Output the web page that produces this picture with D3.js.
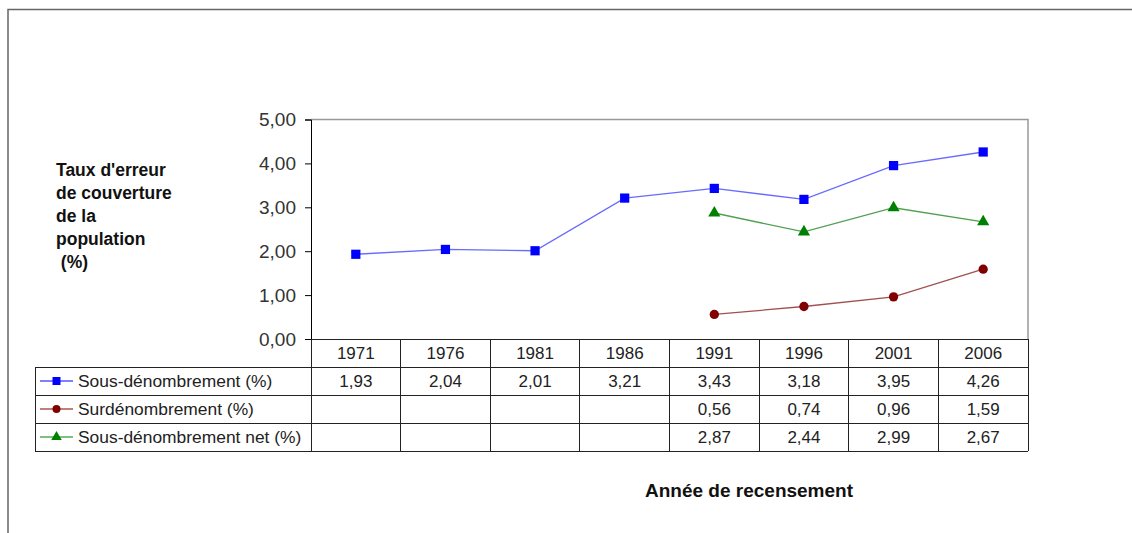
<!DOCTYPE html>
<html lang="fr">
<head>
<meta charset="UTF-8">
<title>Taux d'erreur de couverture</title>
<style>
  body { margin: 0; background: #fff; }
  svg { display: block; font-family: "Liberation Sans", Arial, sans-serif; }
  .grille { stroke: #222; stroke-width: 1; shape-rendering: crispEdges; }
  .cellule { font-size: 17px; fill: #222; text-anchor: middle; }
  .legende { font-size: 17.4px; fill: #222; }
  .titre { font-weight: bold; fill: #111; }
</style>
<script src="https://cdn.jsdelivr.net/npm/d3@7"></script>
</head>
<body>
<script>
// Données
var annees = ["1971", "1976", "1981", "1986", "1991", "1996", "2001", "2006"];
var sousDenombrement = [1.93, 2.04, 2.01, 3.21, 3.43, 3.18, 3.95, 4.26];
var surDenombrement = [null, null, null, null, 0.56, 0.74, 0.96, 1.59];
var sousDenombrementNet = [null, null, null, null, 2.87, 2.44, 2.99, 2.67];
var nomsSeries = ["Sous-dénombrement (%)", "Surdénombrement (%)", "Sous-dénombrement net (%)"];
var graduations = [0, 1, 2, 3, 4, 5];
var titreY = ["Taux d'erreur", "de couverture", "de la", "population", " (%)"];
var titreX = "Année de recensement";

var series = [
  { nom: nomsSeries[0], valeurs: sousDenombrement, couleur: "#0000ff", ligne: "#6a6aff", symbole: d3.symbolSquare, taille: 85 },
  { nom: nomsSeries[1], valeurs: surDenombrement, couleur: "#800000", ligne: "#a05050", symbole: d3.symbolCircle, taille: 68 },
  { nom: nomsSeries[2], valeurs: sousDenombrementNet, couleur: "#008000", ligne: "#50a050", symbole: d3.symbolTriangle, taille: 64 }
];

var largeur = 1132, hauteur = 533;
var zone = { gauche: 311, droite: 1028, haut: 119.5, bas: 339 };
var hautLigne = 28, gaucheTable = 35;

var virgule = d3.formatLocale({ decimal: ",", thousands: " ", grouping: [3], currency: ["", " €"] }).format(".2f");

var svg = d3.select("body").append("svg")
  .attr("width", largeur)
  .attr("height", hauteur);

// cadre extérieur
svg.append("path")
  .attr("d", "M8,533V9.5H1132")
  .attr("fill", "none")
  .attr("stroke", "#666")
  .attr("stroke-width", 1.5);

var x = d3.scaleBand().domain(annees).range([zone.gauche, zone.droite]);
var y = d3.scaleLinear().domain([0, 5]).range([zone.bas, zone.haut]);

// bordure grise de la zone de tracé
svg.append("path")
  .attr("d", "M" + zone.gauche + "," + zone.haut + "H" + zone.droite + "V" + zone.bas)
  .attr("fill", "none")
  .attr("stroke", "#999")
  .attr("stroke-width", 1.5);

// axe Y
var axeY = d3.axisLeft(y).tickValues(graduations).tickFormat(virgule).tickSize(6).tickPadding(9);
var gY = svg.append("g")
  .attr("transform", "translate(" + zone.gauche + ",0)")
  .call(axeY);
gY.select(".domain").attr("stroke", "#000");
gY.selectAll(".tick line").attr("stroke", "#000");
gY.selectAll(".tick text")
  .attr("font-size", 19)
  .attr("font-family", "Liberation Sans, Arial, sans-serif")
  .attr("fill", "#333");

// lignes et marqueurs
var ligne = d3.line()
  .defined(function(d) { return d.v !== null; })
  .x(function(d) { return x(d.a) + x.bandwidth() / 2; })
  .y(function(d) { return y(d.v); });

series.forEach(function(s) {
  var pts = annees.map(function(a, i) { return { a: a, v: s.valeurs[i] }; });
  svg.append("path")
    .datum(pts)
    .attr("fill", "none")
    .attr("stroke", s.ligne)
    .attr("stroke-width", 1.3)
    .attr("d", ligne);
  svg.append("g").selectAll("path")
    .data(pts.filter(function(d) { return d.v !== null; }))
    .join("path")
    .attr("d", d3.symbol().type(s.symbole).size(s.taille))
    .attr("fill", s.couleur)
    .attr("transform", function(d) { return "translate(" + (x(d.a) + x.bandwidth() / 2) + "," + y(d.v) + ")"; });
});

// tableau de données
var table = svg.append("g");
var basTable = zone.bas + hautLigne * 4;

// lignes horizontales
d3.range(4).forEach(function(i) {
  var yy = zone.bas + hautLigne * (i + 1);
  table.append("line").attr("class", "grille")
    .attr("x1", gaucheTable).attr("x2", zone.droite)
    .attr("y1", yy).attr("y2", yy);
});
table.append("line").attr("class", "grille")
  .attr("x1", zone.gauche).attr("x2", zone.droite)
  .attr("y1", zone.bas).attr("y2", zone.bas);
// lignes verticales
table.append("line").attr("class", "grille")
  .attr("x1", gaucheTable).attr("x2", gaucheTable)
  .attr("y1", zone.bas + hautLigne).attr("y2", basTable);
annees.forEach(function(a) {
  table.append("line").attr("class", "grille")
    .attr("x1", x(a)).attr("x2", x(a))
    .attr("y1", zone.bas).attr("y2", basTable);
});
table.append("line").attr("class", "grille")
  .attr("x1", zone.droite).attr("x2", zone.droite)
  .attr("y1", zone.bas).attr("y2", basTable);

// en-têtes des années
table.selectAll("text.annee")
  .data(annees)
  .join("text")
  .attr("class", "cellule annee")
  .attr("x", function(a) { return x(a) + x.bandwidth() / 2; })
  .attr("y", zone.bas + hautLigne / 2 + 6)
  .text(function(a) { return a; });

series.forEach(function(s, j) {
  var yc = zone.bas + hautLigne * (j + 1) + hautLigne / 2;
  // légende
  table.append("line")
    .attr("x1", 40).attr("x2", 73)
    .attr("y1", yc).attr("y2", yc)
    .attr("stroke", s.couleur).attr("stroke-width", 1.2);
  table.append("path")
    .attr("d", d3.symbol().type(s.symbole).size(s.taille * 0.75))
    .attr("fill", s.couleur)
    .attr("transform", "translate(56.5," + yc + ")");
  table.append("text")
    .attr("class", "legende")
    .attr("x", 78)
    .attr("y", yc + 6)
    .text(s.nom);
  // valeurs
  table.append("g").selectAll("text")
    .data(annees.map(function(a, i) { return { a: a, v: s.valeurs[i] }; }).filter(function(d) { return d.v !== null; }))
    .join("text")
    .attr("class", "cellule")
    .attr("x", function(d) { return x(d.a) + x.bandwidth() / 2; })
    .attr("y", yc + 6)
    .text(function(d) { return virgule(d.v); });
});

// titre de l'axe Y
svg.append("text")
  .attr("class", "titre")
  .attr("font-size", 17.5)
  .attr("x", 56)
  .attr("y", 176)
  .selectAll("tspan")
  .data(titreY)
  .join("tspan")
  .attr("x", 56)
  .attr("dy", function(d, i) { return i === 0 ? 0 : 23; })
  .attr("xml:space", "preserve")
  .style("white-space", "pre")
  .text(function(d) { return d; });

// titre de l'axe X
svg.append("text")
  .attr("class", "titre")
  .attr("font-size", 19)
  .attr("text-anchor", "middle")
  .attr("x", 749)
  .attr("y", 497)
  .text(titreX);
</script>
</body>
</html>
